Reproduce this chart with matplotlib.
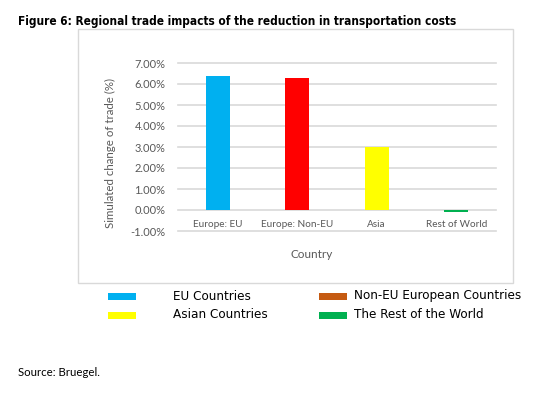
import matplotlib
matplotlib.use("Agg")
import matplotlib.pyplot as plt
from matplotlib.patches import Rectangle
from matplotlib.ticker import FuncFormatter

categories = ["Europe: EU", "Europe: Non-EU", "Asia", "Rest of World"]
values = [6.37, 6.28, 3.01, -0.10]
bar_colors = ["#00B0F0", "#FF0000", "#FFFF00", "#00B050"]
legend_labels = ["EU Countries", "Non-EU European Countries", "Asian Countries", "The Rest of the World"]
legend_colors = ["#00B0F0", "#C55A11", "#FFFF00", "#00B050"]
yticks = [-1, 0, 1, 2, 3, 4, 5, 6, 7]

W, H = 545, 397
fig = plt.figure(figsize=(W/100, H/100), dpi=100)

def fx(px): return px / W
def fy(py): return 1 - py / H

tick_font = ['Lato', 'DejaVu Sans']
gray = "#595959"

# chart border
fig.patches.append(Rectangle((fx(78), fy(283)), fx(513) - fx(78), fy(29) - fy(283),
                             transform=fig.transFigure, fill=False, edgecolor="#D9D9D9", lw=1))

ax = fig.add_axes([fx(178), fy(231), fx(496) - fx(178), fy(63) - fy(231)])
x = range(len(categories))
ax.bar(x, values, width=0.30, color=bar_colors, zorder=3)
ax.set_ylim(-1, 7)
ax.set_xlim(-0.5, len(categories) - 0.5)
ax.set_yticks(yticks)
ax.yaxis.set_major_formatter(FuncFormatter(lambda v, p: f"{v:.2f}%"))
ax.grid(axis="y", color="#D9D9D9", lw=1.2, zorder=0)
for ln in ax.get_ygridlines():
    ln.set_clip_on(False)
for s in ax.spines.values():
    s.set_visible(False)
ax.spines["bottom"].set_position(("data", 0))
ax.set_xticks(list(x))
ax.set_xticklabels(categories)
ax.tick_params(axis="both", length=0, labelcolor=gray)
ax.tick_params(axis="x", pad=7, labelsize=7.2)
ax.tick_params(axis="y", pad=9, labelsize=8)
for lab in ax.get_xticklabels() + ax.get_yticklabels():
    lab.set_family(tick_font)

fig.text(fx(110), fy(153), "Simulated change of trade (%)", rotation=90, ha="center", va="center",
         color=gray, fontsize=8.3, family=tick_font)
fig.text(fx(312), fy(254), "Country", ha="center", va="center", color=gray, fontsize=8.5, family=tick_font)

fig.text(fx(18), fy(22), "Figure 6: Regional trade impacts of the reduction in transportation costs",
         ha="left", va="center", fontsize=8.5, fontweight="bold", family="DejaVu Sans",
         fontstretch="condensed", color="black")

# legend
pos = [(108, 296), (319, 296), (108, 315), (319, 315)]
text_x = [173, 354, 173, 354]
for (px, py), tx, lab, col in zip(pos, text_x, legend_labels, legend_colors):
    fig.patches.append(Rectangle((fx(px), fy(py + 3.5)), fx(28), 7 / H, transform=fig.transFigure,
                                 facecolor=col, edgecolor="none"))
    fig.text(fx(tx), fy(py), lab, ha="left", va="center", fontsize=9.6, family="DejaVu Sans",
             fontstretch="condensed", color="black")

fig.text(fx(18), fy(373), "Source: Bruegel.", ha="left", va="center", fontsize=8.2, family=tick_font, color="black")

fig.savefig("out.png", dpi=100, facecolor="white")
